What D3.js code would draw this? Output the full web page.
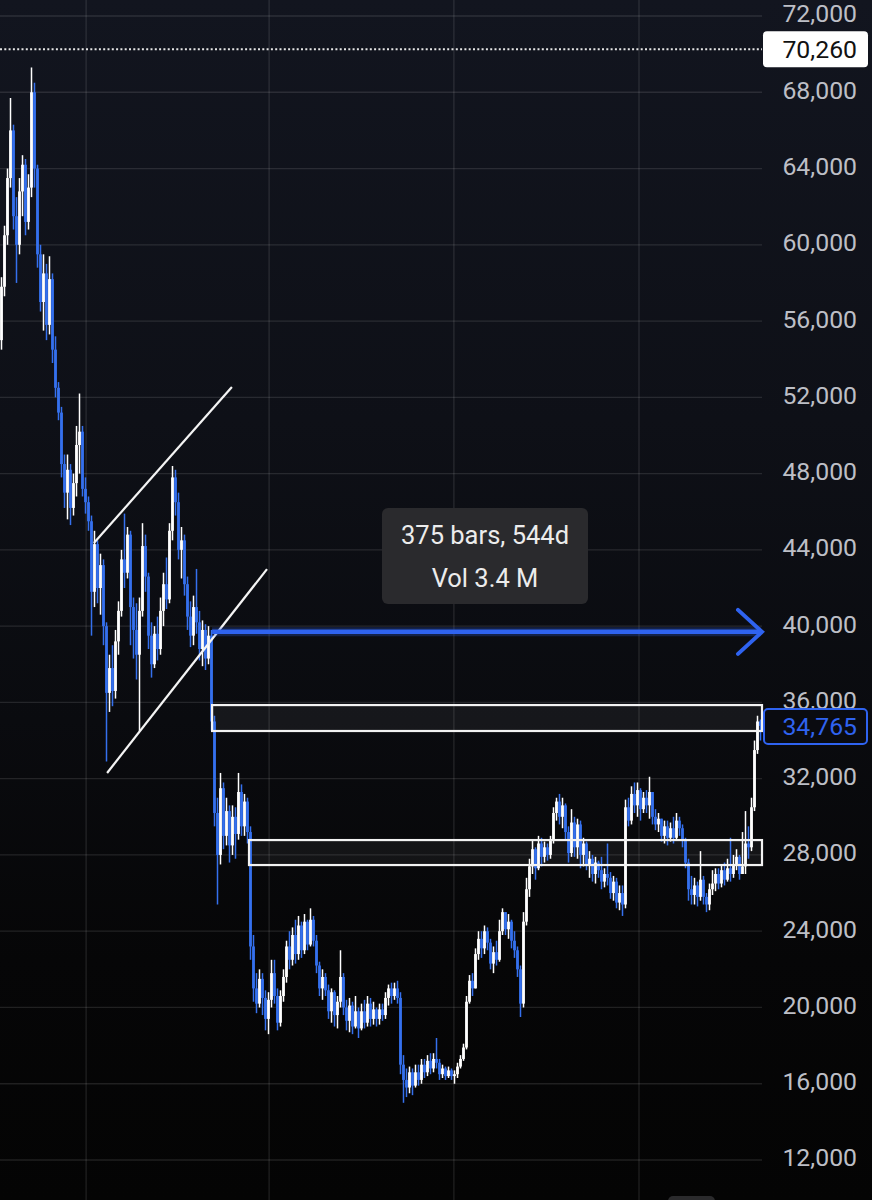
<!DOCTYPE html>
<html>
<head>
<meta charset="utf-8">
<script src="https://cdn.jsdelivr.net/npm/d3@7"></script>
<style>
  html, body { margin: 0; padding: 0; background: #0a0b10; }
  svg { display: block; }
  text { font-family: Roboto, "Noto Sans", sans-serif; }
</style>
</head>
<body>
<svg id="chart" width="872" height="1200"></svg>
<script>
// ---------- DATA (prices in thousands) ----------
const firstOpen = 55.0;
const closes = [57.8,60.5,63.5,66.0,61.5,60.0,62.8,64.2,61.2,63.0,68.0,64.0,59.5,57.0,58.5,55.8,58.2,54.5,52.5,51.2,
48.5,47.0,48.2,46.2,47.5,49.5,50.2,47.2,46.5,45.5,41.8,44.3,42.0,43.2,40.0,36.5,37.8,36.6,39.2,40.8,
43.5,42.8,44.8,41.0,39.8,38.5,40.8,44.2,42.6,39.5,38.0,39.6,38.8,40.8,42.2,41.4,45.0,47.8,46.5,44.0,
44.5,42.2,40.5,39.5,41.0,40.2,38.8,39.8,38.3,39.5,35.0,30.2,28.0,31.5,29.0,30.3,28.5,30.0,29.1,31.3,
29.5,30.8,29.2,23.2,21.0,20.2,21.5,20.5,19.4,20.4,21.8,20.6,19.2,20.6,21.6,23.2,22.5,23.8,22.8,24.3,
23.0,24.5,23.3,24.6,23.5,22.2,21.0,21.6,20.9,19.8,20.8,19.6,20.3,21.6,20.0,19.3,20.1,19.0,19.8,18.9,
19.8,19.2,20.2,19.4,19.9,19.4,19.9,19.6,20.5,21.0,20.6,21.0,20.5,17.0,16.2,15.8,16.6,15.9,16.6,16.2,
17.0,16.6,17.2,16.8,17.3,17.1,16.5,16.8,16.4,16.7,16.4,16.5,16.9,17.3,17.9,20.3,21.4,21.0,22.8,23.6,
23.1,24.0,23.4,22.3,22.9,22.5,24.0,25.0,24.1,24.5,23.5,23.0,22.0,20.2,24.5,26.2,27.4,28.3,27.3,28.6,
27.9,28.4,28.0,28.8,30.2,30.8,30.0,30.6,29.2,28.1,29.7,28.4,29.6,28.0,28.6,27.5,27.8,27.0,27.6,27.2,
26.6,27.0,26.8,26.0,26.6,25.5,26.0,25.4,30.5,29.8,31.2,30.6,31.4,30.4,31.0,30.6,31.3,30.0,29.6,29.9,
29.0,29.5,28.9,29.4,28.9,29.8,29.4,28.8,27.6,26.2,25.9,26.4,25.8,26.7,25.8,25.4,26.2,26.5,27.0,26.5,
27.2,26.7,27.3,27.0,27.5,27.9,27.0,27.4,28.6,28.4,30.5,33.5,35.0,34.765];
const highs = [58.3,61.0,64.0,67.7,66.3,62.5,63.5,64.7,64.5,63.7,69.3,68.5,64.2,60.0,59.5,59.0,59.4,58.5,55.2,52.8,
51.5,49.0,49.0,48.5,48.0,50.5,52.2,50.5,47.8,46.8,45.8,45.0,44.5,43.8,43.5,40.2,38.5,39.0,39.8,41.3,
44.0,45.9,45.2,45.0,41.5,41.2,41.5,45.4,44.8,42.8,40.2,40.0,40.5,41.5,42.8,43.6,45.4,48.4,48.2,47.0,
45.2,44.8,42.6,41.3,41.6,43.0,40.8,40.3,40.1,40.0,39.8,35.3,31.0,32.3,31.8,31.0,30.6,30.6,30.5,32.3,
31.7,31.2,31.0,29.5,23.8,21.8,22.0,21.8,20.9,20.8,22.5,22.5,21.0,20.9,22.0,23.5,24.0,24.2,24.6,24.8,
24.5,24.9,24.6,25.2,24.8,23.8,22.4,22.0,21.8,21.2,21.0,20.9,20.6,23.0,21.8,20.4,20.5,20.3,20.6,20.0,
20.2,20.4,20.6,20.5,20.3,20.0,20.2,20.2,20.8,21.2,21.3,21.3,21.4,20.8,17.5,16.8,16.9,16.8,17.0,17.0,
17.3,17.3,17.5,17.6,17.6,18.4,17.3,17.0,16.9,16.9,16.8,16.7,17.1,17.5,18.1,20.6,21.7,21.8,23.1,24.0,
24.0,24.3,24.2,23.6,23.2,23.5,24.6,25.2,25.0,24.9,24.6,24.0,23.2,22.2,25.0,26.8,27.8,28.8,28.4,29.0,
28.9,28.7,28.6,29.0,30.5,31.0,31.2,31.0,30.7,29.5,30.4,30.0,29.9,29.8,28.9,28.7,28.2,28.0,27.9,27.7,
27.9,27.3,28.6,27.1,26.9,26.8,26.4,26.4,30.9,31.0,31.6,31.8,31.8,31.5,31.3,31.4,32.1,31.3,30.4,30.2,
29.9,29.8,29.8,29.7,30.0,30.2,30.0,29.6,28.9,27.8,26.9,26.8,26.6,28.2,26.9,26.0,26.5,27.2,27.3,27.3,
27.5,27.6,27.8,28.9,28.0,28.3,28.0,29.2,30.3,29.5,31.0,34.0,35.3,35.1];
const lows = [54.5,57.3,60.0,63.0,60.8,58.0,59.5,61.5,60.5,60.8,62.5,63.0,58.8,56.5,55.5,55.0,55.3,53.8,52.0,50.8,
47.8,46.2,45.6,45.3,45.8,46.8,48.0,46.8,45.9,45.0,39.5,41.0,41.2,40.6,39.0,32.9,35.5,35.8,36.2,38.5,
40.5,42.0,42.5,39.0,38.3,37.2,34.5,40.5,41.8,38.8,37.3,37.8,38.2,38.5,40.0,40.9,41.2,44.5,45.8,43.5,
42.5,41.6,39.8,38.9,39.0,39.6,38.2,37.9,37.7,38.0,34.5,29.5,25.4,27.5,28.3,28.5,27.6,28.0,27.8,28.8,
29.0,29.0,28.6,22.5,20.3,19.7,20.0,19.6,18.8,18.6,20.0,20.2,18.8,19.0,20.3,21.3,22.0,22.2,22.3,22.5,
22.6,22.8,23.0,23.2,23.2,21.8,20.6,20.4,20.6,19.4,19.2,19.0,18.9,20.0,19.6,18.8,18.7,18.6,18.9,18.4,
18.8,18.9,19.0,19.0,19.1,19.0,19.1,19.3,19.4,20.1,20.2,20.4,20.2,16.5,15.0,15.3,15.5,15.4,15.8,15.9,
16.0,16.3,16.4,16.5,16.6,16.8,16.2,16.3,16.2,16.3,16.2,16.0,16.3,16.8,17.2,17.8,20.2,20.6,21.0,22.5,
22.6,22.8,23.0,22.0,21.8,22.2,22.4,23.8,23.8,23.6,23.1,22.6,21.6,19.5,20.0,24.3,25.8,27.0,26.7,27.2,
27.4,27.6,27.7,27.8,28.6,29.8,29.6,29.4,28.8,27.6,27.9,27.9,27.8,27.3,27.4,27.2,26.8,26.6,26.5,26.8,
26.2,26.3,26.4,25.7,25.6,25.2,25.1,24.8,25.2,29.5,29.6,30.2,30.0,29.8,30.2,30.2,29.9,29.6,29.3,29.2,
28.7,28.6,28.5,28.7,28.6,28.8,29.0,28.4,27.3,25.6,25.4,25.4,25.3,25.6,25.4,25.0,25.1,25.9,26.1,26.2,
26.3,26.4,26.6,26.6,26.8,27.2,26.7,27.0,27.0,27.8,28.2,30.3,33.3,34.0];

const priceTicks = [72000,68000,64000,60000,56000,52000,48000,44000,40000,36000,32000,28000,24000,20000,16000,12000];
const timeGridBars = [28.2, 89.2, 150.8, 212.5];

const highPrice = 70260;          // dotted high line / white label
const lastPrice = 34765;          // blue last-price label
const arrowLevel = 39700;         // blue measuring arrow
const arrowBars = [70.2, 253.5];
const channelUpper = [[30.8, 44360], [76.8, 52540]];
const channelLower = [[35.2, 32300], [88.5, 42990]];
const zoneUpper = {from: 70.2, to: 253.5, top: 35860, bottom: 34500};
const zoneLower = {from: 82.5, to: 253.5, top: 28780, bottom: 27470};
const tooltipLines = ["375 bars, 544d", "Vol 3.4 M"];

// ---------- build table ----------
const bars = closes.map((c, i) => ({
  i,
  o: (i === 0 ? firstOpen : closes[i - 1]) * 1000,
  h: highs[i] * 1000,
  l: lows[i] * 1000,
  c: c * 1000
}));

// ---------- layout ----------
const W = 872, H = 1200, plotRight = 762;
const svg = d3.select("#chart");

const defs = svg.append("defs");
const grad = defs.append("linearGradient").attr("id", "bg").attr("x1", 0).attr("y1", 0).attr("x2", 0).attr("y2", 1);
[[0, "#12151f"], [0.35, "#0e1017"], [0.6, "#0a0b0f"], [0.8, "#060607"], [1, "#040404"]]
  .forEach(([o, c]) => grad.append("stop").attr("offset", o).attr("stop-color", c));
svg.append("rect").attr("width", W).attr("height", H).attr("fill", "url(#bg)");

const x = d3.scaleLinear().domain([0, closes.length - 1]).range([1.5, 1.5 + 3 * (closes.length - 1)]);
const y = d3.scaleLinear().domain([12000, 72000]).range([1160, 16]);

// grid
const grid = svg.append("g");
grid.selectAll("line.h").data(priceTicks).join("line")
  .attr("x1", 0).attr("x2", plotRight)
  .attr("y1", d => y(d)).attr("y2", d => y(d))
  .attr("stroke", "rgba(255,255,255,0.11)").attr("stroke-width", 1.3);
grid.selectAll("line.v").data(timeGridBars).join("line")
  .attr("x1", d => x(d)).attr("x2", d => x(d))
  .attr("y1", 0).attr("y2", H)
  .attr("stroke", "rgba(255,255,255,0.11)").attr("stroke-width", 1.3);

// dotted high line
svg.append("line")
  .attr("x1", 0).attr("x2", plotRight)
  .attr("y1", y(highPrice)).attr("y2", y(highPrice))
  .attr("stroke", "#e6e6e6").attr("stroke-width", 2).attr("stroke-dasharray", "2,2.3");

// zone fills (under candles)
const zones = [zoneUpper, zoneLower];
zones.forEach(z => {
  svg.append("rect")
    .attr("x", x(z.from)).attr("y", y(z.top))
    .attr("width", x(z.to) - x(z.from)).attr("height", y(z.bottom) - y(z.top))
    .attr("fill", "rgba(255,255,255,0.05)");
});

// candles
const upCol = "#ffffff", downCol = "#3570ee";
const cg = svg.append("g");
cg.selectAll("line.wick").data(bars).join("line")
  .attr("x1", d => x(d.i)).attr("x2", d => x(d.i))
  .attr("y1", d => y(d.h)).attr("y2", d => y(d.l))
  .attr("stroke", d => d.c >= d.o ? upCol : downCol)
  .attr("stroke-width", 1.5);
cg.selectAll("rect.body").data(bars).join("rect")
  .attr("x", d => x(d.i) - 1.4).attr("width", 2.8)
  .attr("y", d => y(Math.max(d.o, d.c)))
  .attr("height", d => Math.max(1, Math.abs(y(d.o) - y(d.c))))
  .attr("fill", d => d.c >= d.o ? upCol : downCol);

// zone outlines (over candles)
zones.forEach(z => {
  svg.append("rect")
    .attr("x", x(z.from)).attr("y", y(z.top))
    .attr("width", x(z.to) - x(z.from)).attr("height", y(z.bottom) - y(z.top))
    .attr("fill", "none")
    .attr("stroke", "#f2f2f2").attr("stroke-width", 2.2);
});

// channel lines
[channelUpper, channelLower].forEach(seg => {
  svg.append("line")
    .attr("x1", x(seg[0][0])).attr("y1", y(seg[0][1]))
    .attr("x2", x(seg[1][0])).attr("y2", y(seg[1][1]))
    .attr("stroke", "#f4f4f4").attr("stroke-width", 2.2);
});

// blue arrow
const arrowCol = "#2f63f0";
const ay = y(arrowLevel), ax0 = x(arrowBars[0]), ax1 = x(arrowBars[1]);
svg.append("line").attr("x1", ax0).attr("x2", ax1 - 1).attr("y1", ay).attr("y2", ay)
  .attr("stroke", "rgba(47,99,240,0.25)").attr("stroke-width", 9);
svg.append("line").attr("x1", ax0).attr("x2", ax1 - 1).attr("y1", ay).attr("y2", ay)
  .attr("stroke", arrowCol).attr("stroke-width", 4.5);
svg.append("path")
  .attr("d", `M${ax1 - 24},${ay - 22} L${ax1},${ay} L${ax1 - 24},${ay + 22}`)
  .attr("fill", "none").attr("stroke", arrowCol).attr("stroke-width", 4)
  .attr("stroke-linecap", "round").attr("stroke-linejoin", "miter");

// tooltip
const tt = svg.append("g");
tt.append("rect").attr("x", 382).attr("y", 508).attr("width", 206).attr("height", 96)
  .attr("rx", 6).attr("fill", "#2a2a2d");
tt.selectAll("text").data(tooltipLines).join("text")
  .attr("x", 485).attr("y", (d, i) => 544 + i * 43)
  .attr("text-anchor", "middle").attr("fill", "#ececec")
  .attr("font-size", 25.5).text(d => d);

// price axis
const axis = d3.axisRight(y).tickValues(priceTicks).tickFormat(d3.format(",")).tickSize(0).tickPadding(0);
const ag = svg.append("g").attr("transform", "translate(857,0)").call(axis);
ag.select(".domain").remove();
ag.selectAll("text")
  .attr("text-anchor", "end").attr("x", 0).attr("dy", "0.24em")
  .attr("fill", "#bdbfc6").attr("font-size", 24.8)
  .attr("font-family", "Roboto, sans-serif");

// high label
svg.append("rect").attr("x", 763).attr("y", y(highPrice) - 18).attr("width", 105).attr("height", 36)
  .attr("rx", 4).attr("fill", "#ffffff");
svg.append("text").attr("x", 857).attr("y", y(highPrice)).attr("dy", "0.35em")
  .attr("text-anchor", "end").attr("fill", "#111").attr("font-size", 24.8)
  .text(d3.format(",")(highPrice));

// last price label
svg.append("rect").attr("x", 764).attr("y", y(lastPrice) - 17).attr("width", 103).attr("height", 35)
  .attr("rx", 4).attr("fill", "#0a0b10").attr("stroke", "#2f63f0").attr("stroke-width", 2);
svg.append("text").attr("x", 857).attr("y", y(lastPrice)).attr("dy", "0.35em")
  .attr("text-anchor", "end").attr("fill", "#2f63f0").attr("font-size", 24.8)
  .text(d3.format(",")(lastPrice));

// small widget peeking at the bottom
svg.append("rect").attr("x", 668).attr("y", 1196).attr("width", 47).attr("height", 12)
  .attr("rx", 5).attr("fill", "#2a2a2c");
</script>
</body>
</html>
